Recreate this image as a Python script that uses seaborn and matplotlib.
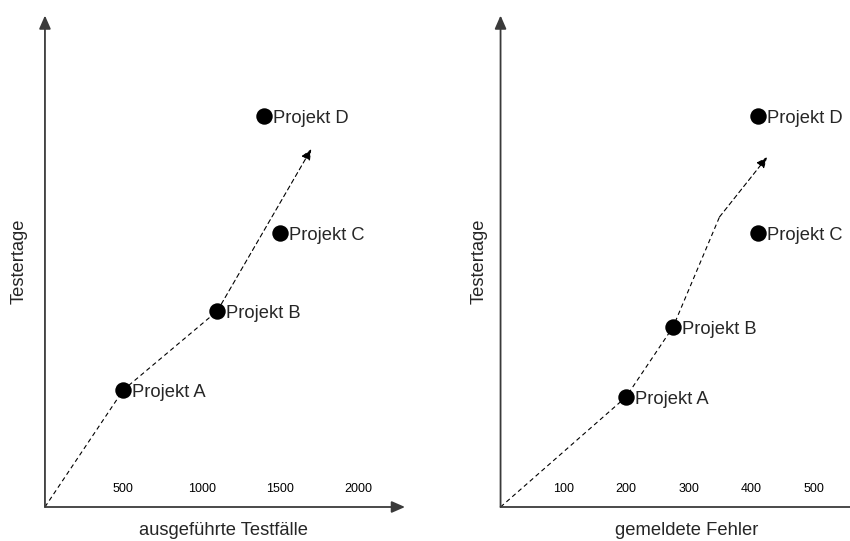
import matplotlib
matplotlib.use("Agg")
import matplotlib.pyplot as plt
import seaborn as sns
import pandas as pd

sns.set_style("white")
plt.rcParams['font.family'] = ['Liberation Sans', 'DejaVu Sans']

# ---- data ----
projects = ["Projekt A", "Projekt B", "Projekt C", "Projekt D"]

# left panel: executed test cases vs tester days
left_x = [500, 1100, 1500, 1400]
left_y = [11.7, 19.6, 27.4, 39.1]
left_trend_x = [0, 500, 1100, 1700]
left_trend_y = [0, 11.7, 19.6, 35.8]
left_ticks = [500, 1000, 1500, 2000]
left_xmax = 2298

# right panel: reported defects vs tester days
right_x = [200, 275, 411, 411]
right_y = [11.0, 18.0, 27.4, 39.1]
right_trend_x = [0, 200, 275, 349, 425]
right_trend_y = [0, 11.0, 18.0, 29.0, 35.0]
right_ticks = [100, 200, 300, 400, 500]
right_xmax = 581

ymax = 49.15

FS = 13.2

fig = plt.figure(figsize=(8.5, 5.41), dpi=100)
ax1 = fig.add_axes([44.95 / 850, 34 / 541, 360.05 / 850, 491.5 / 541])
ax2 = fig.add_axes([500.55 / 850, 34 / 541, 364.45 / 850, 491.5 / 541])

panels = [
    (ax1, left_x, left_y, left_trend_x, left_trend_y, left_ticks, left_xmax,
     "ausgeführte Testfälle", 0.496, -0.072),
    (ax2, right_x, right_y, right_trend_x, right_trend_y, right_ticks, right_xmax,
     "gemeldete Fehler", 0.512, -0.058),
]

axis_col = "#3a3a3a"
for ax, xs, ys, tx, ty, ticks, xmax, xlabel, xlab_x, ylab_x in panels:
    # trend line (dashed) with arrow head on last segment
    df_t = pd.DataFrame({"x": tx[:-1], "y": ty[:-1]})
    sns.lineplot(data=df_t, x="x", y="y", ax=ax, sort=False, estimator=None,
                 color='black', lw=0.8, linestyle=(0, (4, 3)))
    # points
    df_p = pd.DataFrame({"x": xs, "y": ys, "name": projects})
    sns.scatterplot(data=df_p, x="x", y="y", ax=ax, color='black', s=140,
                    edgecolor='black', linewidth=0, zorder=5)

    ax.set_xlim(0, xmax)
    ax.set_ylim(0, ymax)
    for s in ax.spines.values():
        s.set_visible(False)
    ax.set_xticks(ticks)
    ax.set_xticklabels([str(t) for t in ticks])
    ax.tick_params(axis='x', direction='in', length=5, width=1.0, color=axis_col,
                   pad=-17.5, labelsize=9, labelcolor='black')
    ax.tick_params(axis='y', left=False, labelleft=False)

    ax.annotate('', xy=(tx[-1], ty[-1]), xytext=(tx[-2], ty[-2]),
                arrowprops=dict(arrowstyle='-|>,head_length=0.65,head_width=0.28',
                                color='black', lw=0.8, linestyle=(0, (4, 3)),
                                shrinkA=0, shrinkB=0, mutation_scale=10))

    # axis arrows
    arrow_kw = dict(arrowstyle='-|>,head_length=0.8,head_width=0.35', color=axis_col,
                    lw=1.3, shrinkA=0, shrinkB=0, mutation_scale=10)
    ax.annotate('', xy=(1, 0), xytext=(0, 0), xycoords='axes fraction',
                arrowprops=arrow_kw, annotation_clip=False)
    ax.annotate('', xy=(0, 1), xytext=(0, 0), xycoords='axes fraction',
                arrowprops=arrow_kw, annotation_clip=False)

    for n, x, y in zip(projects, xs, ys):
        ax.annotate(n, (x, y), xytext=(6.3, -5.2), textcoords='offset points',
                    va='baseline', ha='left', fontsize=FS)

    ax.set_xlabel(xlabel, fontsize=FS)
    ax.xaxis.set_label_coords(xlab_x, -0.0488)
    ax.xaxis.label.set_va('center')
    ax.set_ylabel("Testertage", fontsize=FS)
    ax.yaxis.set_label_coords(ylab_x, 0.5)
    ax.yaxis.label.set_va('center')
    ax.yaxis.label.set_visible(True)

fig.savefig("out.png", dpi=100)
